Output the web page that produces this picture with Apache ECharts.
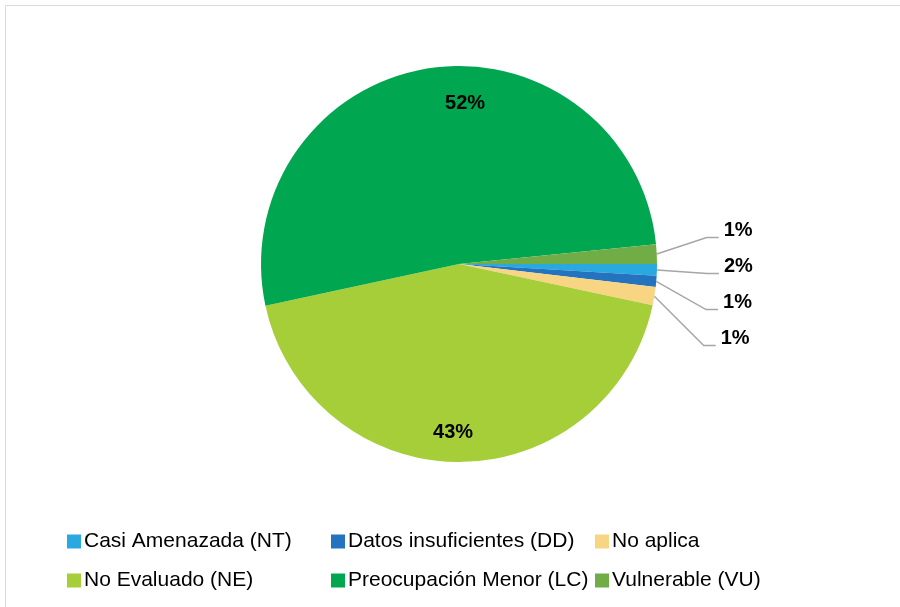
<!DOCTYPE html>
<html>
<head>
<meta charset="utf-8">
<title>Categorías de amenaza</title>
<script src="https://cdn.jsdelivr.net/npm/echarts@6/dist/echarts.min.js"></script>
<style>
    html, body { margin: 0; padding: 0; background: #fff; }
    #grafico { width: 900px; height: 607px; }
</style>
</head>
<body>
<div id="grafico"></div>
<script>
    // datos del gráfico (porcentajes)
    var categorias = ['Casi Amenazada (NT)', 'Datos insuficientes (DD)', 'No aplica',
        'No Evaluado (NE)', 'Preocupación Menor (LC)', 'Vulnerable (VU)'];
    var valores = [0.95, 0.9, 1.5, 43.3, 51.8, 1.6];
    var etiquetas = ['2%', '1%', '1%', '43%', '52%', '1%'];

    var myChart = echarts.init(document.getElementById('grafico'));

    var fuente = {
        fontFamily: 'Liberation Sans, Arial, sans-serif',
        fontWeight: 'bold',
        fontSize: 20,
        color: '#000'
    };

    // serie principal: solo etiquetas externas para las porciones pequeñas
    var datosPrincipal = categorias.map(function (nombre, i) {
        var d = {name: nombre, value: valores[i]};
        if (valores[i] > 10) {
            d.label = {show: false};
            d.labelLine = {show: false};
        }
        return d;
    });

    // serie transparente en forma de anillo para ubicar las etiquetas internas
    var datosInternos = categorias.map(function (nombre, i) {
        var d = {name: nombre, value: valores[i], label: {show: valores[i] > 10}};
        if (i === 4) {
            d.label.offset = [32, 4];
        } else if (i === 3) {
            d.label.offset = [-6, 1];
        }
        return d;
    });

    var option = {
        color: ['#29A9E0', '#2373BE', '#F8D583', '#A6CE39', '#00A650', '#70AD47'],
        animation: false,
        graphic: [{
            type: 'rect',
            silent: true,
            shape: {x: 5.5, y: 5.5, width: 1000, height: 1000},
            style: {fill: 'none', stroke: '#D9D9D9', lineWidth: 1}
        }],
        legend: {
            left: 67,
            top: 522,
            width: 810,
            padding: 0,
            icon: 'rect',
            itemWidth: 14,
            itemHeight: 14,
            itemGap: 0,
            data: categorias,
            textStyle: {
                fontFamily: 'Liberation Sans, Arial, sans-serif',
                fontSize: 21,
                color: '#000',
                width: 247,
                lineHeight: 39,
                padding: [0, 0, 0, -2]
            }
        },
        series: [
            {
                type: 'pie',
                center: [459, 264],
                radius: [0, 198],
                startAngle: 0,
                clockwise: true,
                avoidLabelOverlap: true,
                emphasis: {disabled: true},
                itemStyle: {borderWidth: 0},
                label: Object.assign({
                    position: 'outside',
                    alignTo: 'labelLine',
                    edgeDistance: 150,
                    lineHeight: 34,
                    formatter: function (p) {
                        return etiquetas[p.dataIndex];
                    }
                }, fuente),
                labelLine: {
                    length: 50,
                    length2: 12,
                    lineStyle: {color: '#A6A6A6', width: 1.5}
                },
                // subir el bloque de etiquetas externas y su línea guía
                labelLayout: function (p) {
                    if (!p.labelLinePoints) {
                        return {};
                    }
                    var puntos = p.labelLinePoints.map(function (pt, k) {
                        return k === 0 ? [pt[0], pt[1]] : [pt[0], pt[1] - 14];
                    });
                    return {dy: -21, labelLinePoints: puntos};
                },
                data: datosPrincipal
            },
            {
                type: 'pie',
                silent: true,
                legendHoverLink: false,
                center: [459, 264],
                radius: [130, 198],
                startAngle: 0,
                clockwise: true,
                emphasis: {disabled: true},
                itemStyle: {color: 'rgba(0,0,0,0)', borderWidth: 0},
                label: Object.assign({
                    position: 'inside',
                    formatter: function (p) {
                        return etiquetas[p.dataIndex];
                    }
                }, fuente),
                labelLine: {show: false},
                data: datosInternos
            }
        ]
    };

    myChart.setOption(option);
</script>
</body>
</html>
